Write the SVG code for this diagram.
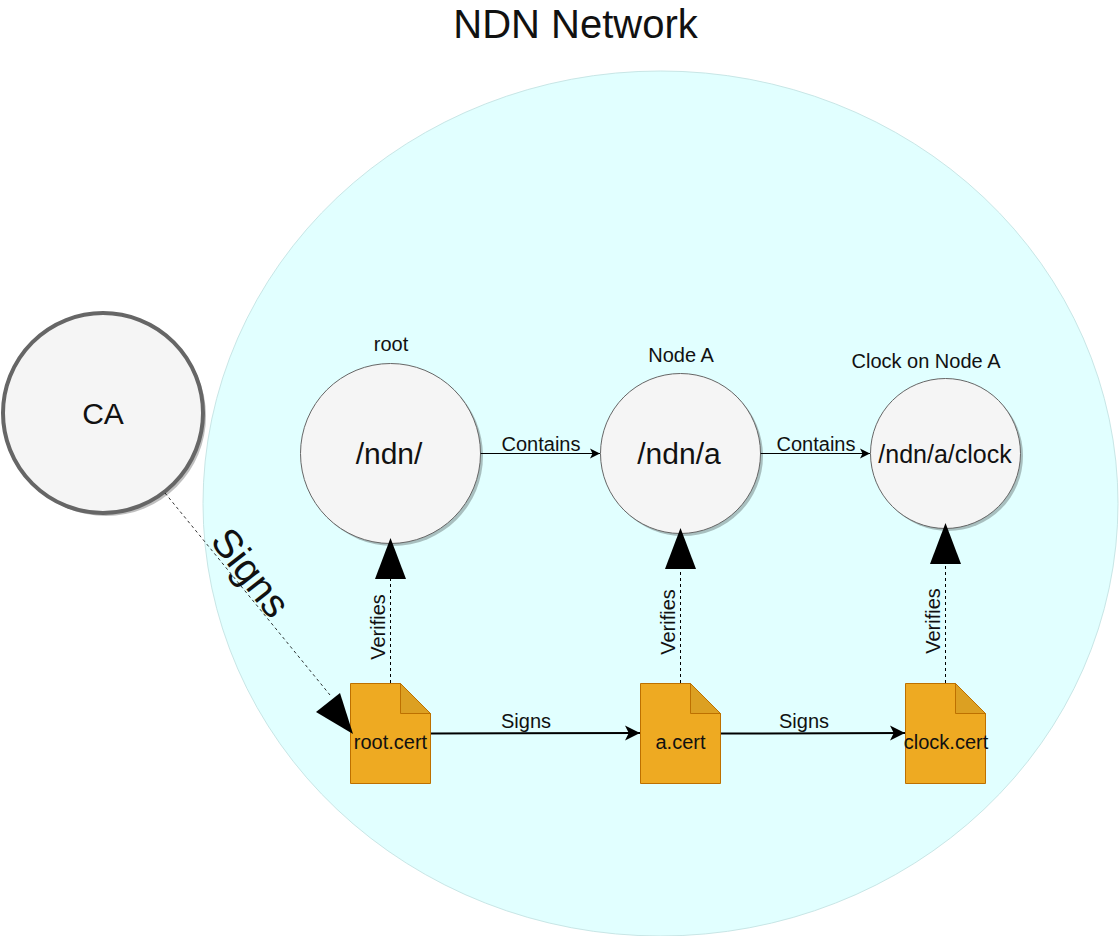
<svg xmlns="http://www.w3.org/2000/svg" width="1119" height="936" viewBox="0 0 1119 936">
<style>
text{font-family:"Liberation Sans",Arial,sans-serif;fill:#111;text-anchor:middle}
.c{fill:#f5f5f5;stroke:#666;stroke-width:1}
.s{fill:#000;opacity:.25}
.f{fill:#eeaa22;stroke:#bd7000;stroke-width:1}
.d{fill:#dca022;stroke:#bd7000;stroke-width:1}
.l{font-size:20px}
.n{font-size:30px}
.lnk{fill:none;stroke:#000}
</style>
<defs>
<marker id="sm" markerUnits="userSpaceOnUse" markerWidth="12" markerHeight="12" refX="10" refY="5" orient="auto" overflow="visible"><path d="M0 0L10 5L0 10L2.500 5Z" fill="#000"/></marker>
<marker id="md" markerUnits="userSpaceOnUse" markerWidth="18" markerHeight="18" refX="15" refY="7.500" orient="auto" overflow="visible"><path d="M0 0L15 7.500L0 15L3.750 7.500Z" fill="#000"/></marker>
</defs>
<text x="575.500" y="38" style="font-size:40px">NDN Network</text>
<g id="network"><ellipse cx="660.500" cy="503.500" rx="457.500" ry="432.500" fill="#e1ffff" stroke="#c8e6e6" stroke-width="1"/></g>
<g id="ca">
<circle class="s" cx="106" cy="416" r="100"/>
<circle cx="103" cy="413" r="100" fill="#f5f5f5" stroke="#666" stroke-width="4"/>
<text x="103" y="424" class="n">CA</text>
</g>
<g id="root">
<text x="391" y="351" class="l">root</text>
<circle class="s" cx="393" cy="456" r="90"/>
<circle class="c" cx="390.500" cy="453.500" r="90"/>
<text x="389" y="464" class="n">/ndn/</text>
</g>
<g id="node-a">
<text x="681" y="362" class="l">Node A</text>
<circle class="s" cx="683" cy="456" r="80"/>
<circle class="c" cx="680.500" cy="453.500" r="80"/>
<text x="679" y="464" class="n">/ndn/a</text>
</g>
<g id="clock">
<text x="926" y="368" class="l">Clock on Node A</text>
<circle class="s" cx="948" cy="456" r="75"/>
<circle class="c" cx="945.500" cy="453.500" r="75"/>
<text x="945" y="463" style="font-size:25px">/ndn/a/clock</text>
</g>
<g id="root-cert">
<path class="f" d="M350.500 683.500H400.500L430.500 713.500V783.500H350.500Z"/>
<path class="d" d="M400.500 683.500V713.500H430.500Z"/>
<text x="390.500" y="749" class="l">root.cert</text>
</g>
<g id="a-cert">
<path class="f" d="M640.500 683.500H690.500L720.500 713.500V783.500H640.500Z"/>
<path class="d" d="M690.500 683.500V713.500H720.500Z"/>
<text x="680.500" y="749" class="l">a.cert</text>
</g>
<g id="clock-cert">
<path class="f" d="M905.500 683.500H955.500L985.500 713.500V783.500H905.500Z"/>
<path class="d" d="M955.500 683.500V713.500H985.500Z"/>
<text x="946" y="749" class="l">clock.cert</text>
</g>
<g id="connectors">
<path class="lnk" d="M480.500 453.500H600" marker-end="url(#sm)"/>
<path class="lnk" d="M760.500 453.500H870" marker-end="url(#sm)"/>
<path class="lnk" stroke-width="2" d="M431 733.500L640 733" marker-end="url(#md)"/>
<path class="lnk" stroke-width="2" d="M721 733.500L905 733" marker-end="url(#md)"/>
<path class="lnk" stroke-dasharray="3 3" d="M390.500 683V579"/>
<path class="lnk" stroke-dasharray="3 3" d="M680.500 683V569"/>
<path class="lnk" stroke-dasharray="3 3" d="M945.500 683V564"/>
<path d="M390.500 538L375 579H406Z"/>
<path d="M680.500 528L665 569H696Z"/>
<path d="M945.500 523L930 564H961Z"/>
<path class="lnk" stroke-dasharray="3 3" stroke-width=".8" d="M165 493L330 695"/>
<path d="M353 734L316 712L340 693Z"/>
</g>
<g id="labels">
<text x="541" y="451" class="l">Contains</text>
<text x="816" y="451" class="l">Contains</text>
<text x="526" y="728" class="l">Signs</text>
<text x="804" y="728" class="l">Signs</text>
<text transform="translate(385 627) rotate(-90)" class="l">Verifies</text>
<text transform="translate(675 622) rotate(-90)" class="l">Verifies</text>
<text transform="translate(940 621) rotate(-90)" class="l">Verifies</text>
<text transform="translate(240 581) rotate(52)" style="font-size:40px">Signs</text>
</g>
</svg>
